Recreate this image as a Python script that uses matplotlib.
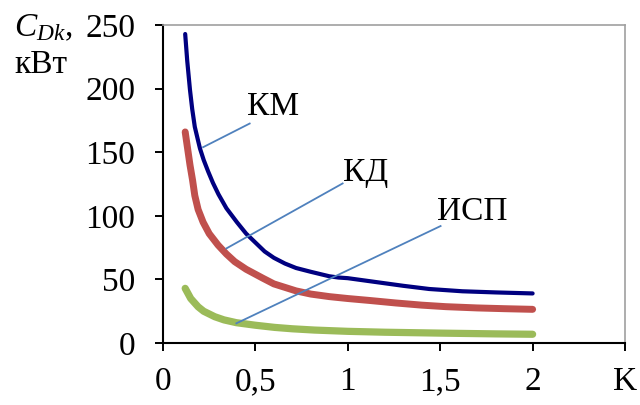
import matplotlib
matplotlib.use("Agg")
import matplotlib.pyplot as plt

# data
km_x = [0.12, 0.131, 0.146, 0.158, 0.172, 0.19, 0.2, 0.22, 0.244, 0.27, 0.3, 0.343, 0.4, 0.45,
        0.5, 0.55, 0.6, 0.66, 0.72, 0.8, 0.9, 0.95, 1.0, 1.1, 1.2, 1.3, 1.44, 1.62, 1.8, 2.0]
km_y = [243, 222, 199, 184, 170, 159, 153, 144, 135, 126, 117, 106, 95, 86,
        79, 72, 67, 62.5, 59, 56, 52.5, 51.5, 51, 49, 47, 45, 42.5, 40.7, 39.8, 39]

kd_x = [0.12, 0.133, 0.146, 0.16, 0.172, 0.19, 0.217, 0.25, 0.298, 0.343, 0.388, 0.45, 0.54,
        0.6, 0.72, 0.8, 0.9, 1.0, 1.116, 1.26, 1.4, 1.53, 1.7, 1.85, 2.0]
kd_y = [166, 153, 140, 128, 116, 105, 95, 86, 77, 70, 64, 58, 51,
        46.5, 41, 38.5, 36.5, 35, 33.5, 31.5, 29.8, 28.6, 27.6, 27, 26.5]

isp_x = [0.12, 0.15, 0.19, 0.22, 0.28, 0.33, 0.397, 0.5, 0.604, 0.7, 0.82, 1.0, 1.2, 1.5, 1.8, 2.0]
isp_y = [43, 35, 28.5, 25, 20.7, 18.2, 16, 14, 12.3, 11.2, 10.2, 9.2, 8.5, 7.8, 7.2, 6.9]

x_ticks = [0, 0.5, 1, 1.5, 2, 2.5]
x_labels = ["0", "0,5", "1", "1,5", "2", "K"]
y_ticks = [0, 50, 100, 150, 200, 250]

plt.rcParams['font.family'] = ['Liberation Serif', 'DejaVu Serif']
plt.rcParams['mathtext.fontset'] = 'custom'
plt.rcParams['mathtext.rm'] = 'Liberation Serif'
plt.rcParams['mathtext.it'] = 'Liberation Serif:italic'

fig = plt.figure(figsize=(6.4, 4.05), dpi=100)
ax = fig.add_axes([0.2547, 0.153, 0.7219, 0.785])

ax.plot(km_x, km_y, color='#000080', lw=3.0, solid_capstyle='round', solid_joinstyle='round')
ax.plot(kd_x, kd_y, color='#C0504D', lw=5.0, solid_capstyle='round', solid_joinstyle='round')
ax.plot(isp_x, isp_y, color='#9BBB59', lw=5.2, solid_capstyle='round', solid_joinstyle='round')

# callout lines and labels
lc = '#4F81BD'
ax.plot([0.217, 0.469], [154, 172.6], color=lc, lw=1.3)
ax.plot([0.343, 0.972], [74.4, 125.5], color=lc, lw=1.3)
ax.plot([0.397, 1.502], [15.5, 92], color=lc, lw=1.3)
ax.text(0.593, 186, "КМ", fontsize=24, ha='center', va='center')
ax.text(1.094, 134, "КД", fontsize=24, ha='center', va='center')
ax.text(1.671, 103, "ИСП", fontsize=24, ha='center', va='center')

ax.set_xlim(0, 2.5)
ax.set_ylim(0, 250)
ax.set_xticks(x_ticks)
ax.set_xticklabels(x_labels)
ax.set_yticks(y_ticks)
ax.tick_params(axis='both', labelsize=24, length=6, width=1.4, direction='out')
ax.tick_params(axis='x', pad=11)
ax.tick_params(axis='y', pad=14)

for s in ['left', 'bottom']:
    ax.spines[s].set_linewidth(1.5)
    ax.spines[s].set_color('black')
for s in ['top', 'right']:
    ax.spines[s].set_linewidth(1.2)
    ax.spines[s].set_color('#A0A0A0')

fig.text(0.022, 0.931, r'$C_{Dk},$', fontsize=24, ha='left', va='center')
fig.text(0.022, 0.84, "кВт", fontsize=24, ha='left', va='center')

fig.savefig("out.png", dpi=100)
